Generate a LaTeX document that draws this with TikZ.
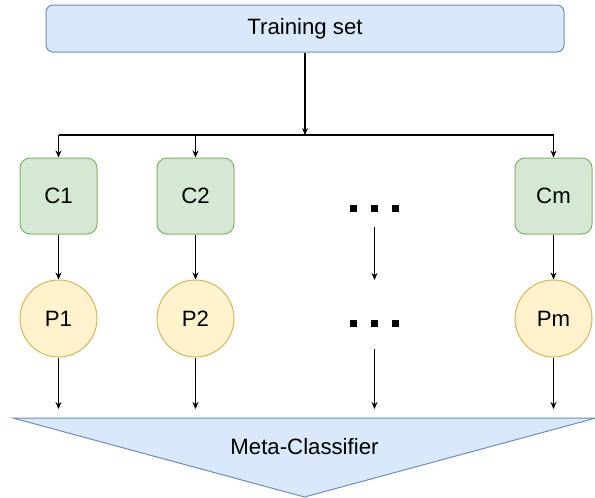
\documentclass[tikz,border=0pt]{standalone}
\usepackage{fontspec}
\setmainfont{Liberation Sans}
\usetikzlibrary{arrows.meta}
\definecolor{bluefill}{HTML}{DAE8FC}
\definecolor{bluestroke}{HTML}{6C8EBF}
\definecolor{greenfill}{HTML}{D5E8D4}
\definecolor{greenstroke}{HTML}{82B366}
\definecolor{yellowfill}{HTML}{FFF2CC}
\definecolor{yellowstroke}{HTML}{D6B656}
\tikzset{
  txt/.style={font=\fontsize{22.2}{25}\selectfont, text=black},
  trainbox/.style={txt, draw=bluestroke, fill=bluefill, line width=1pt, rounded corners=7pt, minimum width=518pt, minimum height=47pt, inner sep=0pt},
  clsbox/.style={txt, draw=greenstroke, fill=greenfill, line width=1pt, rounded corners=10pt, minimum width=77pt, minimum height=76pt, inner sep=0pt},
  predcirc/.style={txt, circle, draw=yellowstroke, fill=yellowfill, line width=1pt, minimum size=77pt, inner sep=0pt},
  conn/.style={draw=black, line width=1.1pt, -{Stealth[length=7pt,width=6pt]}},
  plainline/.style={draw=black, line width=1.1pt},
  dotsq/.style={fill=black, draw=none, minimum size=7pt, inner sep=0pt}
}
\begin{document}
\begin{tikzpicture}[x=1pt,y=-1pt]
\useasboundingbox (0,0) rectangle (595,498);
% training set
\node[trainbox] (train) at (305,28.5) {Training set};
% classifiers
\node[clsbox] (c1) at (58.5,196) {C1};
\node[clsbox] (c2) at (195.5,196) {C2};
\node[clsbox] (cm) at (553.5,196) {Cm};
% predictions
\node[predcirc] (p1) at (58.5,318.5) {P1};
\node[predcirc] (p2) at (195.5,318.5) {P2};
\node[predcirc] (pm) at (553.5,318.5) {Pm};
% dots
\node[dotsq] (d1a) at (353.5,208) {};
\node[dotsq] (d1b) at (374.5,208) {};
\node[dotsq] (d1c) at (395.5,208) {};
\node[dotsq] (d2a) at (353.5,323) {};
\node[dotsq] (d2b) at (374.5,323) {};
\node[dotsq] (d2c) at (395.5,323) {};
% meta classifier triangle
\coordinate (tl) at (13,418);
\coordinate (tr) at (596,418);
\coordinate (tb) at (304.5,497);
\draw[draw=bluestroke, fill=bluefill, line width=1pt, line join=miter] (tl) -- (tr) -- (tb) -- cycle;
\node[txt] (meta) at (304.5,447) {Meta-Classifier};
% bus
\coordinate (bus) at (305,135);
\coordinate (busl) at (58.5,135);
\coordinate (busr) at (553.5,135);
\draw[conn] (train.south) -- (bus);
\draw[plainline] (busl) -- (busr);
\draw[conn] (busl) -- (c1.north);
\draw[conn] (c2.north |- bus) -- (c2.north);
\draw[conn] (busr) -- (cm.north);
% classifier to prediction
\draw[conn] (c1) -- (p1);
\draw[conn] (c2) -- (p2);
\draw[conn] (cm) -- (pm);
\coordinate (ds1) at (374.5,227);
\coordinate (de1) at (374.5,280);
\draw[conn] (ds1) -- (de1);
% predictions to meta
\coordinate (e1) at (58.5,409);
\coordinate (e2) at (195.5,409);
\coordinate (e3) at (374.5,409);
\coordinate (e4) at (553.5,409);
\coordinate (ds2) at (374.5,349);
\draw[conn] (p1) -- (e1);
\draw[conn] (p2) -- (e2);
\draw[conn] (ds2) -- (e3);
\draw[conn] (pm) -- (e4);
\end{tikzpicture}
\end{document}
